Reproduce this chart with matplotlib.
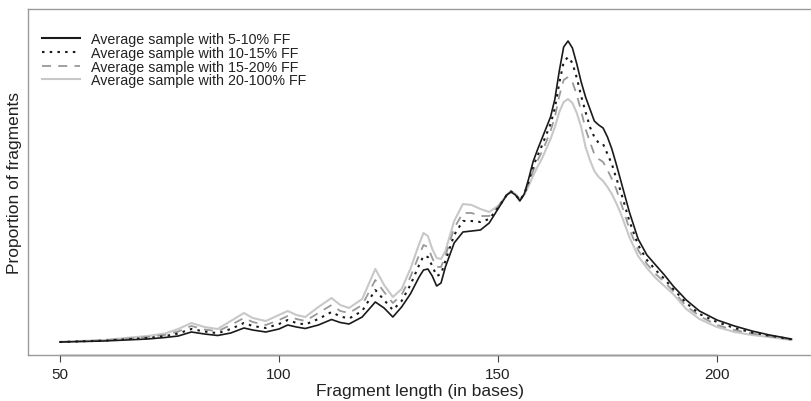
import matplotlib
matplotlib.use("Agg")
import matplotlib.pyplot as plt
from matplotlib.lines import Line2D

plt.rcParams['font.family'] = ['Liberation Sans', 'DejaVu Sans']

# Fragment length (bases)
lengths = [50, 55, 60, 65, 70, 74, 77, 80, 83, 86, 89, 92, 94, 97, 100, 102, 104, 106, 109,
           112, 114, 116, 119, 122, 124, 126, 128, 130, 132, 133, 134, 135, 136, 137, 138,
           140, 142, 144, 146, 148, 150, 152, 153, 154,
           155, 156, 157, 158, 159, 160, 161, 162, 163, 164, 165, 166, 167, 168, 169, 170,
           171, 172, 173, 174, 175, 176, 177, 178, 179, 180,
           182, 184, 186, 188, 190, 193, 196, 200, 204, 208, 212, 217]

# Proportion of fragments (per length)
ff_5_10 = [0.0000, 0.00005, 0.0001, 0.0002, 0.0003, 0.00045, 0.0006, 0.0010, 0.0008, 0.00065,
           0.0009, 0.0014, 0.0012, 0.0010, 0.0013, 0.0017, 0.0015, 0.00135, 0.0017,
           0.00225, 0.00195, 0.0018, 0.0025, 0.0040, 0.0034, 0.0025, 0.0035, 0.0048, 0.0065,
           0.0072, 0.0073, 0.0066, 0.0056, 0.0059, 0.0075,
           0.0099, 0.0110, 0.0111, 0.0112, 0.0119, 0.0133, 0.0147, 0.0150, 0.0147,
           0.0141, 0.0148, 0.0163, 0.0180, 0.0192, 0.0203, 0.0214, 0.0225, 0.0243, 0.0271,
           0.0295, 0.0301, 0.0294, 0.0278, 0.0260, 0.0245,
           0.0233, 0.0221, 0.0217, 0.0214, 0.0205, 0.0193, 0.0178, 0.0162, 0.0146, 0.0130,
           0.0103, 0.0087, 0.0077, 0.0067, 0.0056, 0.0042, 0.0031, 0.0022, 0.0016, 0.0011,
           0.0007, 0.0003]

ff_10_15 = [0.0000, 0.00007, 0.00013, 0.00027, 0.0004, 0.00059, 0.00085, 0.0013, 0.00105, 0.00088,
            0.0013, 0.0019, 0.0016, 0.0014, 0.0018, 0.0022, 0.0019, 0.00175, 0.0023,
            0.0030, 0.00255, 0.00235, 0.0031, 0.0052, 0.0042, 0.0032, 0.0041, 0.0057, 0.0077,
            0.0086, 0.0085, 0.0076, 0.0066, 0.0068, 0.0081,
            0.0107, 0.0121, 0.0121, 0.0120, 0.0123, 0.0134, 0.0147, 0.01505, 0.0147,
            0.0142, 0.0148, 0.0160, 0.0175, 0.0186, 0.0196, 0.0207, 0.0218, 0.0234, 0.0259,
            0.0280, 0.0285, 0.0279, 0.0264, 0.0246, 0.0230,
            0.0215, 0.0205, 0.0199, 0.0198, 0.0188, 0.0178, 0.0164, 0.0151, 0.0136, 0.0121,
            0.0097, 0.0082, 0.0072, 0.0063, 0.0053, 0.0039, 0.0028, 0.0020, 0.0014, 0.00095,
            0.00063, 0.00027]

ff_15_20 = [0.0000, 0.00008, 0.00017, 0.00033, 0.0005, 0.00071, 0.00105, 0.0016, 0.00125, 0.00107,
            0.0017, 0.0024, 0.0020, 0.0017, 0.0022, 0.0026, 0.0023, 0.0021, 0.0029,
            0.0037, 0.0031, 0.0029, 0.0037, 0.0062, 0.0050, 0.0039, 0.0047, 0.0065, 0.0087,
            0.0097, 0.0095, 0.0084, 0.0075, 0.0075, 0.0086,
            0.0114, 0.0129, 0.0129, 0.0126, 0.0126, 0.0135, 0.0147, 0.0151, 0.0148,
            0.0142, 0.0147, 0.0159, 0.0171, 0.0181, 0.0190, 0.0200, 0.0211, 0.0225, 0.0246,
            0.0262, 0.0265, 0.0260, 0.0247, 0.0231, 0.0213,
            0.0200, 0.0188, 0.0183, 0.0180, 0.0172, 0.0163, 0.0153, 0.0140, 0.0127, 0.0113,
            0.0092, 0.0078, 0.0068, 0.0060, 0.0051, 0.0036, 0.0026, 0.0017, 0.0012, 0.00085,
            0.00056, 0.00023]

ff_20_100 = [0.0000, 0.0001, 0.0002, 0.0004, 0.0006, 0.00085, 0.0013, 0.0019, 0.0015, 0.0013,
             0.0021, 0.0029, 0.0024, 0.0021, 0.0027, 0.0031, 0.0027, 0.0025, 0.0035,
             0.0044, 0.0037, 0.0034, 0.0043, 0.0073, 0.0057, 0.0045, 0.0053, 0.0073, 0.0098,
             0.0109, 0.0106, 0.0093, 0.0084, 0.0083, 0.0091,
             0.0121, 0.0138, 0.0137, 0.0133, 0.0130, 0.0136, 0.0147, 0.0151, 0.0148,
             0.0143, 0.0147, 0.0156, 0.0166, 0.0175, 0.0183, 0.0193, 0.0203, 0.0215, 0.0230,
             0.0240, 0.0243, 0.0239, 0.0229, 0.0215, 0.0195,
             0.0182, 0.0171, 0.0165, 0.0161, 0.0155, 0.0148, 0.0139, 0.0129, 0.0117, 0.0105,
             0.0086, 0.0074, 0.0064, 0.0056, 0.0048, 0.0033, 0.0023, 0.0015, 0.0010, 0.0007,
             0.0005, 0.0002]

labels = ["Average sample with 5-10% FF", "Average sample with 10-15% FF",
          "Average sample with 15-20% FF", "Average sample with 20-100% FF"]
xticks = [50, 100, 150, 200]

W, H = 812, 402
fig = plt.figure(figsize=(W / 100, H / 100), dpi=100)
ax = fig.add_axes([28 / W, 1 - 356 / H, 1 - 28 / W, (356 - 10) / H])

ax.plot(lengths, ff_20_100, color='#c8c8c8', lw=1.5, solid_joinstyle='round')
ax.plot(lengths, ff_15_20, color='#999999', lw=1.3, dashes=(5, 4))
ax.plot(lengths, ff_10_15, color='#1a1a1a', lw=1.5, dashes=(1.2, 2.5))
ax.plot(lengths, ff_5_10, color='#1a1a1a', lw=1.2, solid_joinstyle='round')

ax.set_xlim(42.7, 221.7)
ax.set_ylim(-0.0013, 0.0333)

for s in ['left', 'top', 'bottom']:
    ax.spines[s].set_color('#9a9a9a')
    ax.spines[s].set_linewidth(1.0)
ax.spines['right'].set_visible(False)
ax.plot([50, 200], [-0.0013, -0.0013], color='#444444', lw=1.0, clip_on=False)

ax.set_yticks([])
ax.set_xticks(xticks)
ax.set_xticklabels([str(t) for t in xticks])
ax.tick_params(axis='x', length=5, width=0.8, color='#444444', labelsize=11, pad=4,
               labelcolor='#222222')

ax.set_xlabel("Fragment length (in bases)", fontsize=12.5, color='#222222', labelpad=1)
ax.set_ylabel("Proportion of fragments", fontsize=12.5, color='#222222', labelpad=4)

handles = [
    Line2D([], [], color='#1a1a1a', lw=1.5),
    Line2D([], [], color='#1a1a1a', lw=1.5, dashes=(1.2, 2.5)),
    Line2D([], [], color='#999999', lw=1.3, dashes=(5, 4)),
    Line2D([], [], color='#c8c8c8', lw=1.5),
]
ax.legend(handles, labels, loc='upper left', bbox_to_anchor=(0.01, 0.949), frameon=False,
          fontsize=10.3, handlelength=2.7, handletextpad=0.75, labelspacing=-0.03,
          borderaxespad=0.0, labelcolor='#222222')

fig.savefig("out.png", dpi=100)
